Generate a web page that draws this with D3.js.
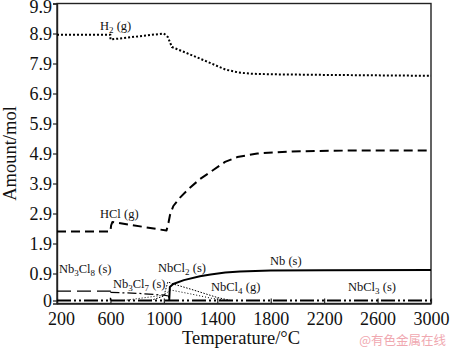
<!DOCTYPE html>
<html><head><meta charset="utf-8">
<script src="https://cdn.jsdelivr.net/npm/d3@7"></script>
<style>body{margin:0;background:#fff}svg{display:block}</style>
</head><body>
<script>
// ---- data (temperature °C, amount mol) ----
const xTicks = [200, 600, 1000, 1400, 1800, 2200, 2600, 3000];
const yTicks = [0, 0.9, 1.9, 2.9, 3.9, 4.9, 5.9, 6.9, 7.9, 8.9, 9.9];
const yTickLabels = ["0", "0.9", "1.9", "2.9", "3.9", "4.9", "5.9", "6.9", "7.9", "8.9", "9.9"];

const H2 = [[200,8.86],[600,8.86],[600,8.70],[1000,8.90],[1030,8.78],[1060,8.45],[1170,8.25],[1320,7.97],[1460,7.70],[1560,7.60],[1650,7.56],[1800,7.54],[2200,7.52],[3000,7.49]];
const HCl = [[200,2.30],[600,2.30],[605,2.50],[615,2.62],[1020,2.33],[1035,2.60],[1046,2.85],[1071,3.15],[1121,3.43],[1183,3.71],[1271,4.05],[1370,4.35],[1458,4.62],[1550,4.78],[1700,4.90],[1960,4.97],[2400,5.00],[3000,5.00]];
const Nb = [[1040,0],[1045,0.45],[1070,0.55],[1150,0.68],[1270,0.81],[1350,0.87],[1460,0.93],[1570,0.97],[1800,1.00],[2200,1.01],[3000,1.02]];
const Nb3Cl8 = [[200,0.31],[600,0.31],[600,0]];
const Nb3Cl7 = [[600,0.27],[800,0.24],[1000,0.18],[1035,0.15],[1040,0]];
const NbCl2 = [[900,0],[1000,0.15],[1030,0.62],[1070,0.55],[1200,0.38],[1400,0.10],[1500,0]];
const NbCl4 = [[700,0],[1000,0.18],[1050,0.35],[1200,0.22],[1350,0.08],[1470,0]];
const NbCl3 = [[200,0],[3000,0]];

const series = [
  {data: NbCl3, w: 1.8, dash: "14,3,2,3,2,3"},
  {data: Nb3Cl8, w: 1.3, dash: "14,6"},
  {data: Nb3Cl7, w: 1.2, dash: "9,3,2,3"},
  {data: NbCl4, w: 1, dash: "1,2"},
  {data: NbCl2, w: 1, dash: "1.5,1.5"},
  {data: Nb, w: 2, dash: null},
  {data: HCl, w: 2, dash: "9,5"},
  {data: H2, w: 2, dash: "2,2"}
];

const labels = [
  {parts: [["H",0],["2",1],[" (g)",0]], x: 100, y: 30},
  {parts: [["HCl (g)",0]], x: 100, y: 218},
  {parts: [["Nb",0],["3",1],["Cl",0],["8",1],[" (s)",0]], x: 59, y: 273},
  {parts: [["Nb",0],["3",1],["Cl",0],["7",1],[" (s)",0]], x: 113, y: 288},
  {parts: [["NbCl",0],["2",1],[" (s)",0]], x: 158, y: 272},
  {parts: [["NbCl",0],["4",1],[" (g)",0]], x: 211, y: 291},
  {parts: [["Nb (s)",0]], x: 270, y: 265},
  {parts: [["NbCl",0],["3",1],[" (s)",0]], x: 348, y: 291}
];

const W = 450, H = 348;
const m = {l: 57, r: 431, t: 3.5, b: 303.5};
const svg = d3.select("body").append("svg").attr("width", W).attr("height", H);
const x = d3.scaleLinear().domain([200, 3000]).range([m.l, m.r]);
const y = d3.scaleLinear().domain([-0.1, 9.9]).range([m.b, m.t]);
const serif = "'Liberation Serif','Times New Roman',serif";

// frame
svg.append("rect").attr("x", m.l).attr("y", m.t).attr("width", m.r - m.l).attr("height", m.b - m.t)
  .attr("fill", "none").attr("stroke", "#222").attr("stroke-width", 1.4);

// x axis (inward ticks)
const xa = svg.append("g").attr("transform", `translate(0,${m.b})`)
  .call(d3.axisBottom(x).tickValues(xTicks).tickSizeInner(-5).tickSizeOuter(0).tickPadding(10).tickFormat(d3.format("d")));
xa.select(".domain").attr("stroke", "#222").attr("stroke-width", 1.4);
xa.selectAll(".tick line").attr("stroke", "#222").attr("stroke-width", 1.2);
xa.selectAll(".tick text").attr("font-family", serif).attr("font-size", 18).attr("fill", "#111")
  .attr("y", 0).attr("dy", 21.5)
  .attr("dx", d => d === 200 ? 4 : 0);

// y axis (outward ticks)
const ya = svg.append("g").attr("transform", `translate(${m.l},0)`)
  .call(d3.axisLeft(y).tickValues(yTicks).tickSize(4).tickPadding(1).tickFormat((d, i) => yTickLabels[i]));
ya.select(".domain").attr("stroke", "#222").attr("stroke-width", 1.4);
ya.selectAll(".tick line").attr("stroke", "#222").attr("stroke-width", 1.2);
ya.selectAll(".tick text").attr("font-family", serif).attr("font-size", 18).attr("fill", "#111")
  .attr("dy", d => d === 9.9 ? "0.5em" : "0.33em");

// lines
const line = d3.line().x(d => x(d[0])).y(d => y(d[1]));
const plot = svg.append("g");
series.forEach(s => {
  plot.append("path").attr("d", line(s.data)).attr("fill", "none").attr("stroke", "#000")
    .attr("stroke-width", s.w).attr("stroke-dasharray", s.dash).attr("stroke-linejoin", "round");
});

// series labels
labels.forEach(L => {
  const t = svg.append("text").attr("x", L.x).attr("y", L.y).attr("font-family", serif)
    .attr("font-size", 12.5).attr("fill", "#111");
  let sub = false;
  L.parts.forEach(([s, isSub]) => {
    const ts = t.append("tspan").text(s);
    if (isSub && !sub) { ts.attr("font-size", 9).attr("dy", 3); sub = true; }
    else if (!isSub && sub) { ts.attr("dy", -3); sub = false; }
  });
});

// axis titles
svg.append("text").attr("x", (m.l + m.r) / 2 - 3).attr("y", 344).attr("text-anchor", "middle")
  .attr("font-family", serif).attr("font-size", 18.5).attr("fill", "#111").text("Temperature/°C");
svg.append("text").attr("transform", `translate(16,${(m.t + m.b) / 2}) rotate(-90)`).attr("text-anchor", "middle")
  .attr("font-family", serif).attr("font-size", 18.5).attr("fill", "#111").text("Amount/mol");

// watermark
svg.append("text").attr("x", 446).attr("y", 345).attr("text-anchor", "end")
  .attr("font-family", "'Noto Sans CJK SC',sans-serif").attr("font-size", 12.5).attr("fill", "#f0a8b0")
  .text("@有色金属在线");
</script>
</body></html>
